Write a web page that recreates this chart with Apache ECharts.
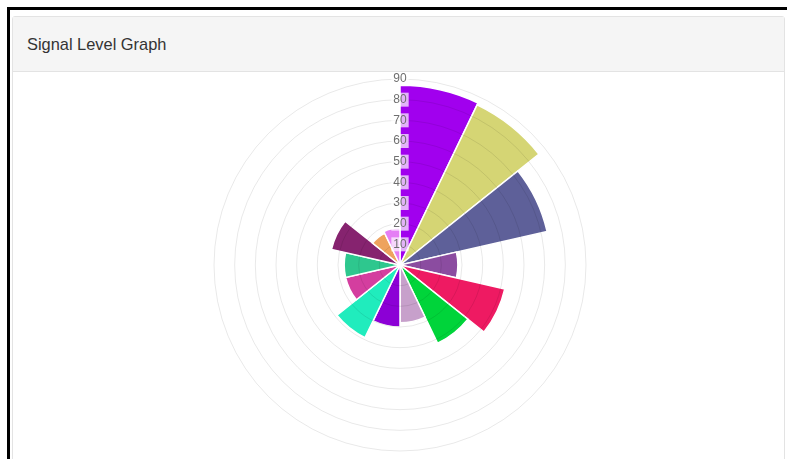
<!DOCTYPE html>
<html>
<head>
<meta charset="utf-8">
<script src="https://cdn.jsdelivr.net/npm/echarts@6/dist/echarts.min.js"></script>
<style>
  html, body {
    margin: 0;
    padding: 0;
    width: 787px;
    height: 459px;
    overflow: hidden;
    background: #fff;
    font-family: "Liberation Sans", Arial, sans-serif;
  }
  .frame {
    position: absolute;
    left: 7px;
    top: 7px;
    right: 0;
    bottom: 0;
    border-top: 3px solid #000;
    border-left: 3px solid #000;
  }
  .panel {
    position: absolute;
    left: 12px;
    top: 16px;
    width: 771px;
    height: 460px;
    border: 1px solid #e3e3e3;
    border-radius: 3px;
    background: #fff;
  }
  .panel-heading {
    height: 54px;
    line-height: 55px;
    padding-left: 14px;
    background: #f5f5f5;
    border-bottom: 1px solid #e3e3e3;
    color: #333;
    font-size: 16.4px;
  }
  #signalChart {
    width: 771px;
    height: 390px;
  }
</style>
</head>
<body>
<div class="frame"></div>
<div class="panel">
  <div class="panel-heading">Signal Level Graph</div>
  <div id="signalChart"></div>
</div>
<script>
// 数据
const categories = ['1', '2', '3', '4', '5', '6', '7', '8', '9', '10', '11', '12', '13', '14'];
const signalValues = [87, 86, 73, 28, 52, 42, 28, 30, 39, 27, 27, 34, 17, 18];
const sectorColors = [
  '#a100ee', '#d5d574', '#5e6099', '#8b4ca0', '#ee1a62', '#00d43a', '#c7a0cb',
  '#8c00d6', '#20ecbd', '#d43e9f', '#2ec78e', '#86236f', '#eea35e', '#e57ef5'
];
const radiusTicks = [10, 20, 30, 40, 50, 60, 70, 80, 90];

const myChart = echarts.init(document.getElementById('signalChart'));

myChart.setOption({
  animation: false,
  polar: {
    center: [387, 193],
    radius: 186
  },
  angleAxis: {
    type: 'category',
    data: categories,
    startAngle: 90,
    clockwise: true,
    axisLine: { show: false },
    axisTick: { show: false },
    axisLabel: { show: false },
    splitLine: { show: false }
  },
  radiusAxis: {
    type: 'value',
    min: 0,
    max: radiusTicks[radiusTicks.length - 1],
    interval: 10,
    z: 10,
    axisLine: { show: false },
    axisTick: { show: false },
    axisLabel: {
      show: true,
      margin: 0,
      align: 'center',
      verticalAlign: 'middle',
      color: '#6f6f6f',
      fontSize: 12,
      fontFamily: 'Liberation Sans',
      backgroundColor: 'rgba(255,255,255,0.7)',
      padding: [1, 2],
      formatter: (v) => (v === 0 ? '' : v)
    },
    // 网格线压在扇区上方，半透明
    splitLine: {
      show: true,
      lineStyle: { color: 'rgba(0,0,0,0.09)', width: 1 }
    }
  },
  series: [
    {
      type: 'bar',
      coordinateSystem: 'polar',
      barCategoryGap: '0%',
      data: signalValues.map((v, i) => ({
        value: v,
        itemStyle: { color: sectorColors[i] }
      })),
      itemStyle: {
        borderColor: '#fff',
        borderWidth: 1.5
      }
    }
  ]
});
</script>
</body>
</html>
